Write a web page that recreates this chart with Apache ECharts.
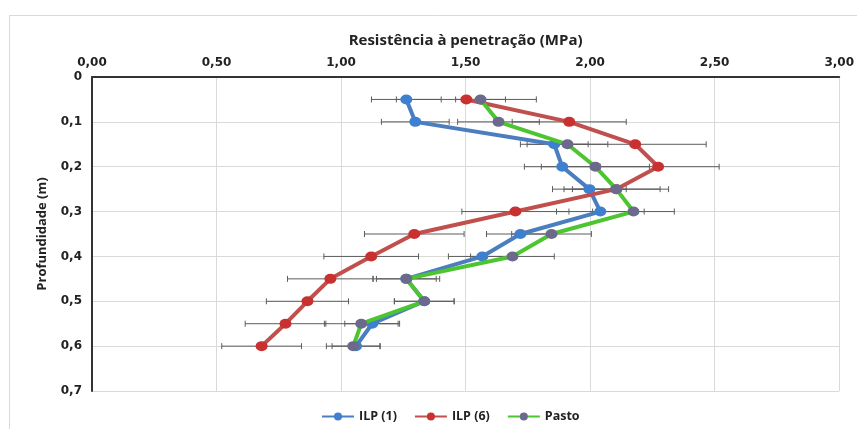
<!DOCTYPE html>
<html>
<head>
<meta charset="utf-8">
<script src="https://cdn.jsdelivr.net/npm/echarts@6/dist/echarts.min.js"></script>
<style>html,body{margin:0;padding:0;background:#fff;}#c{width:857px;height:429px;}</style>
</head>
<body>
<div id="c"></div>
<script>
var depths = [0.05, 0.1, 0.15, 0.2, 0.25, 0.3, 0.35, 0.4, 0.45, 0.5, 0.55, 0.6];
var ilp1 = [1.262, 1.298, 1.856, 1.888, 1.997, 2.041, 1.72, 1.567, 1.262, 1.334, 1.125, 1.06];
var ilp6 = [1.503, 1.916, 2.181, 2.273, 2.105, 1.70, 1.294, 1.121, 0.957, 0.865, 0.777, 0.681];
var pasto = [1.56, 1.632, 1.909, 2.021, 2.105, 2.174, 1.845, 1.688, 1.262, 1.334, 1.081, 1.049];
var err1 = [0.14, 0.136, 0.136, 0.152, 0.148, 0.176, 0.136, 0.136, 0.12, 0.12, 0.11, 0.096];
var err6 = [0.281, 0.229, 0.285, 0.245, 0.176, 0.215, 0.2, 0.19, 0.172, 0.165, 0.162, 0.16];
var errP = [0.1, 0.164, 0.162, 0.217, 0.21, 0.164, 0.16, 0.168, 0.134, 0.12, 0.148, 0.108];
var seriesNames = ['ILP (1)', 'ILP (6)', 'Pasto'];
var xTicks = ['0,00', '0,50', '1,00', '1,50', '2,00', '2,50', '3,00'];
var yTicks = ['0', '0,1', '0,2', '0,3', '0,4', '0,5', '0,6', '0,7'];

function pts(vals) { return vals.map(function (v, i) { return [v, depths[i]]; }); }
function errData(vals, errs) { return vals.map(function (v, i) { return [v - errs[i], v + errs[i], depths[i]]; }); }

function errSeries(vals, errs) {
  return {
    type: 'custom',
    silent: true,
    z: 1,
    data: errData(vals, errs),
    encode: { x: [0, 1], y: 2 },
    renderItem: function (params, api) {
      var a = api.coord([api.value(0), api.value(2)]);
      var b = api.coord([api.value(1), api.value(2)]);
      var h = 3;
      var st = { stroke: '#5c5c5c', lineWidth: 1 };
      return {
        type: 'group',
        children: [
          { type: 'line', shape: { x1: a[0], y1: a[1], x2: b[0], y2: b[1] }, style: st },
          { type: 'line', shape: { x1: a[0], y1: a[1] - h, x2: a[0], y2: a[1] + h }, style: st },
          { type: 'line', shape: { x1: b[0], y1: b[1] - h, x2: b[0], y2: b[1] + h }, style: st }
        ]
      };
    }
  };
}

function lineSeries(name, vals, lineColor, markColor, z) {
  return {
    name: name,
    type: 'line',
    z: z,
    data: pts(vals),
    symbol: 'circle',
    symbolSize: [12, 10],
    lineStyle: { color: lineColor, width: 4 },
    itemStyle: { color: markColor, borderColor: markColor, borderWidth: 0 },
    emphasis: { disabled: true },
    animation: false
  };
}

var chart = echarts.init(document.getElementById('c'), null, { renderer: 'canvas' });
chart.setOption({
  backgroundColor: '#fff',
  animation: false,
  graphic: [{
    type: 'rect', silent: true, z: -10,
    shape: { x: 9.5, y: 15.5, width: 900, height: 500 },
    style: { fill: 'none', stroke: '#d9d9d9', lineWidth: 1 }
  }],
  grid: { left: 92, right: 17, top: 77, bottom: 38 },
  legend: {
    top: 405,
    left: 316,
    itemWidth: 32,
    itemHeight: 10,
    itemGap: 17,
    textStyle: { fontFamily: 'Open Sans', fontWeight: 'bold', fontSize: 12.5, color: '#222' },
    data: seriesNames
  },
  xAxis: {
    type: 'value',
    position: 'top',
    min: 0, max: 3, interval: 0.5,
    name: 'Resistência à penetração (MPa)',
    nameLocation: 'middle',
    nameGap: 29,
    nameTextStyle: { fontFamily: 'Open Sans', fontWeight: 'bold', fontSize: 15, color: '#222' },
    axisLine: { show: true, lineStyle: { color: '#333', width: 2 } },
    axisTick: { show: false },
    axisLabel: {
      margin: 8,
      fontFamily: 'DejaVu Sans', fontWeight: 'bold', fontSize: 12, color: '#222',
      formatter: function (v) { return xTicks[Math.round(v / 0.5)]; }
    },
    splitLine: { show: true, lineStyle: { color: '#d9d9d9', width: 1 } }
  },
  yAxis: {
    type: 'value',
    inverse: true,
    min: 0, max: 0.7, interval: 0.1,
    name: 'Profundidade (m)',
    nameLocation: 'middle',
    nameGap: 43,
    nameRotate: 90,
    nameTextStyle: { fontFamily: 'Open Sans', fontWeight: 'bold', fontSize: 13, color: '#222' },
    axisLine: { show: true, lineStyle: { color: '#333', width: 2 } },
    axisTick: { show: false },
    axisLabel: {
      margin: 10,
      fontFamily: 'DejaVu Sans', fontWeight: 'bold', fontSize: 12, color: '#222',
      formatter: function (v) { return yTicks[Math.round(v / 0.1)]; }
    },
    splitLine: { show: true, lineStyle: { color: '#d9d9d9', width: 1 } }
  },
  series: [
    errSeries(ilp1, err1),
    errSeries(ilp6, err6),
    errSeries(pasto, errP),
    lineSeries('ILP (1)', ilp1, '#4a7ebf', '#3f7fcf', 3),
    lineSeries('ILP (6)', ilp6, '#c0504d', '#c8312f', 4),
    lineSeries('Pasto', pasto, '#4cc531', '#6b6a8c', 5)
  ]
});
</script>
</body>
</html>
